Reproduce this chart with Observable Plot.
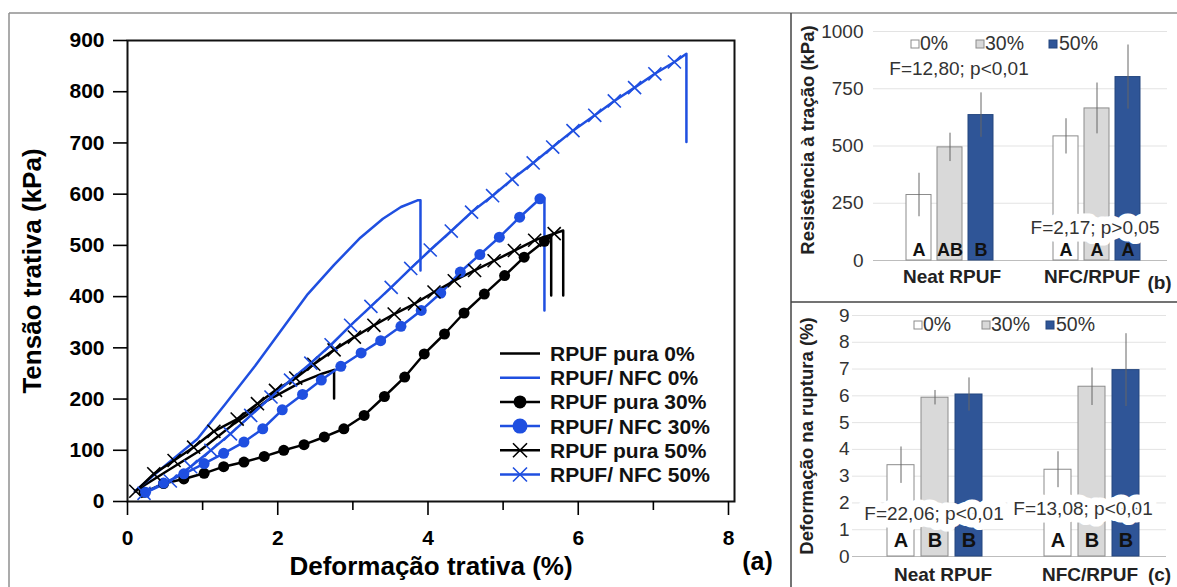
<!DOCTYPE html>
<html><head><meta charset="utf-8">
<script src="https://cdn.jsdelivr.net/npm/d3@7"></script>
<script src="https://cdn.jsdelivr.net/npm/@observablehq/plot@0.6"></script>
<style>
body{margin:0;background:#fff;}
#wrap{position:relative;width:1177px;height:587px;overflow:hidden;background:#fff;}
</style></head><body><div id="wrap"></div>
<script>
// ---------- Panel (a): stress–strain curves ----------
const pura0X = [0.1, 0.5, 0.97, 1.42, 1.86, 2.31, 2.6];
const pura0Y = [20, 57, 100, 152, 197, 233, 250];
const pura0Break = [2.75, 257, 201];

const nfc0X = [0.1, 0.5, 0.93, 1.3, 1.7, 2.1, 2.4, 2.75, 3.1, 3.4, 3.64, 3.86];
const nfc0Y = [20, 70, 122, 190, 265, 345, 405, 462, 515, 552, 575, 588];
const nfc0Break = [3.9, 588, 451];

const pura30X = [0.22,0.48,0.75,1.02,1.28,1.55,1.82,2.08,2.35,2.62,2.88,3.15,3.42,3.69,3.95,4.22,4.48,4.75,5.02,5.28,5.55];
const pura30Y = [18,35,44,55,68,77,88,100,111,126,142,168,205,243,288,327,368,405,441,477,508];
const pura30Break = [5.64, 519, 402];

const nfc30X = [0.24,0.48,0.75,1.02,1.28,1.55,1.8,2.06,2.33,2.58,2.84,3.11,3.37,3.64,3.91,4.17,4.43,4.69,4.95,5.22,5.49];
const nfc30Y = [18,36,54,74,94,116,142,179,209,237,264,290,314,342,373,407,448,482,516,555,591];
const nfc30Break = [5.55, 593, 373];

const pura50X = [0.11,0.35,0.62,0.88,1.15,1.46,1.73,1.97,2.24,2.48,2.75,3.02,3.28,3.55,3.82,4.08,4.35,4.62,4.88,5.15,5.42,5.68];
const pura50Y = [20,54,80,106,137,161,191,217,241,268,296,321,344,366,386,409,431,451,470,490,510,523];
const pura50Break = [5.8, 529, 402];

const nfc50X = [0.22,0.57,0.84,1.11,1.37,1.64,1.91,2.17,2.44,2.71,2.97,3.24,3.51,3.77,4.03,4.31,4.58,4.86,5.12,5.4,5.66,5.93,6.22,6.48,6.75,7.02,7.28];
const nfc50Y = [16,40,68,100,132,168,204,237,270,306,344,381,418,455,491,528,565,597,629,661,692,724,754,782,808,835,858];
const nfc50Break = [7.44, 874, 702];

const seriesNames = ["RPUF pura 0%", "RPUF/ NFC 0%", "RPUF pura 30%", "RPUF/ NFC 30%", "RPUF pura 50%", "RPUF/ NFC 50%"];
const yTicksA = [0,100,200,300,400,500,600,700,800,900];
const xMajorA = [0,2,4,6,8];
const xMinorA = [1,3,5,7];

// ---------- Panels (b) and (c): bar charts ----------
const groups = ["Neat RPUF", "NFC/RPUF"];
const levels = ["0%", "30%", "50%"];
const strengthMean = [286, 494, 635, 542, 664, 801];
const strengthSD   = [95, 62, 97, 77, 111, 140];
const strengthLetters = ["A", "AB", "B", "A", "A", "A"];
const strengthTicks = [0, 250, 500, 750, 1000];
const strengthStats = [
  {group: "Neat RPUF", label: "F=12,80; p<0,01", v: 835},
  {group: "NFC/RPUF",  label: "F=2,17; p>0,05",  v: 144}
];

const strainMean = [3.41, 5.93, 6.05, 3.24, 6.34, 6.96];
const strainSD   = [0.68, 0.27, 0.62, 0.67, 0.70, 1.36];
const strainLetters = ["A", "B", "B", "A", "B", "B"];
const strainTicks = [0,1,2,3,4,5,6,7,8,9];
const strainStats = [
  {group: "Neat RPUF", label: "F=22,06; p<0,01", v: 1.60},
  {group: "NFC/RPUF",  label: "F=13,08; p<0,01", v: 1.76}
];

// ---------- styles ----------
const FONT = '"Liberation Sans", Arial, sans-serif';
const BLUE = "#1f4fe0";
const BLACK = "#000";
const BAR_FILL = {"0%": "#ffffff", "30%": "#d9d9d9", "50%": "#2f5597"};
const BAR_STROKE = {"0%": "#8c8c8c", "30%": "#8c8c8c", "50%": "#24467f"};

const series = [
  {name: seriesNames[0], x: pura0X, y: pura0Y, brk: pura0Break, color: BLACK, marker: null},
  {name: seriesNames[1], x: nfc0X,  y: nfc0Y,  brk: nfc0Break,  color: BLUE,  marker: null},
  {name: seriesNames[2], x: pura30X, y: pura30Y, brk: pura30Break, color: BLACK, marker: "dot"},
  {name: seriesNames[3], x: nfc30X, y: nfc30Y, brk: nfc30Break, color: BLUE, marker: "dot"},
  {name: seriesNames[4], x: pura50X, y: pura50Y, brk: pura50Break, color: BLACK, marker: "times"},
  {name: seriesNames[5], x: nfc50X, y: nfc50Y, brk: nfc50Break, color: BLUE, marker: "times"}
];
const curveRows = s => {
  const r = s.x.map((x, i) => ({x, y: s.y[i]}));
  r.push({x: s.brk[0], y: s.brk[1]}, {x: s.brk[0], y: s.brk[2]});
  return r;
};
const pointRows = s => s.x.map((x, i) => ({x, y: s.y[i]}));

const wrap = document.getElementById("wrap");
function place(el, left, top) {
  el.style.position = "absolute";
  el.style.left = left + "px";
  el.style.top = top + "px";
  wrap.appendChild(el);
}

// ---------- main chart ----------
const lineMarks = [];
for (const s of series) {
  lineMarks.push(Plot.line(curveRows(s), {x: "x", y: "y", stroke: s.color, strokeWidth: 2.5}));
}
for (const s of series) {
  if (s.marker === "dot") lineMarks.push(Plot.dot(pointRows(s), {x: "x", y: "y", fill: s.color, r: 5.5}));
  if (s.marker === "times") lineMarks.push(Plot.dot(pointRows(s), {x: "x", y: "y", symbol: "times", stroke: s.color, r: 6, strokeWidth: 1.6}));
}

const chartA = Plot.plot({
  width: 790, height: 587,
  marginLeft: 127, marginRight: 56, marginTop: 40, marginBottom: 86,
  x: {domain: [0, 8.08]},
  y: {domain: [0, 900]},
  style: {fontFamily: FONT, background: "transparent", overflow: "visible", color: "#000"},
  marks: [
    ...lineMarks,
    Plot.frame({stroke: "#111", strokeWidth: 2}),
    Plot.axisY({ticks: yTicksA, tickSize: 14, tickPadding: 9, fontSize: 21, fontWeight: "bold", label: null, strokeWidth: 1.6}),
    Plot.axisX({ticks: xMajorA, tickSize: 14, tickPadding: 15, fontSize: 21, fontWeight: "bold", label: null, strokeWidth: 1.6}),
    Plot.axisX({ticks: xMinorA, tickSize: 9, tickFormat: () => "", label: null, strokeWidth: 1.6}),
    Plot.text(["Tensão trativa (kPa)"], {text: d => d, frameAnchor: "left", textAnchor: "middle", dx: -95, rotate: -90, fontSize: 26, fontWeight: "bold"}),
    Plot.text(["Deformação trativa (%)"], {text: d => d, frameAnchor: "bottom", textAnchor: "middle", dy: 73, fontSize: 26, fontWeight: "bold"}),
    Plot.text(["(a)"], {text: d => d, frameAnchor: "bottom-right", textAnchor: "middle", dx: 23, dy: 68, fontSize: 25, fontWeight: "bold"})
  ]
});
place(chartA, 0, 0);

// ---------- bar panels ----------
function barRows(means, sds, letters) {
  return means.map((v, i) => ({
    group: groups[Math.floor(i / 3)], level: levels[i % 3], value: v, sd: sds[i], letter: letters[i]
  }));
}
function barPanel(o) {
  const rows = barRows(o.means, o.sds, o.letters);
  const statMarks = o.stats.map((st, i) => Plot.text([st], {
    fx: "group", y: "v", text: "label", dx: o.statDx[i], fontSize: 19, fill: "#333",
    stroke: "white", strokeWidth: 15, strokeLinejoin: "round", paintOrder: "stroke"
  }));
  const groupMarks = groups.map((g, i) => Plot.text([g], {
    fx: d => d, text: d => d, frameAnchor: "bottom", textAnchor: "middle",
    dy: o.groupDy, dx: o.groupDx[i], fontSize: 19, fontWeight: "bold", fill: "#222"
  }));
  return Plot.plot({
    width: o.width, height: o.height,
    marginLeft: o.ml, marginRight: o.mr, marginTop: o.mt, marginBottom: o.mb,
    fx: {domain: groups, padding: 0, axis: null},
    x: {domain: levels, paddingInner: o.pi, paddingOuter: o.po, align: o.align, axis: null},
    y: {domain: o.domain},
    color: {type: "identity"},
    style: {fontFamily: FONT, background: "transparent", overflow: "visible", color: "#333"},
    marks: [
      Plot.gridY({ticks: o.ticks, stroke: "#e3e3e3", strokeOpacity: 1}),
      Plot.ruleY([0], {stroke: "#bdbdbd"}),
      Plot.axisY({ticks: o.ticks, tickSize: 0, tickPadding: o.tp, fontSize: 19, fill: "#333", tickFormat: d3.format("d"), label: null}),
      Plot.barY(rows, {fx: "group", x: "level", y: "value", fill: d => BAR_FILL[d.level], stroke: d => BAR_STROKE[d.level], strokeWidth: 1}),
      Plot.ruleX(rows, {fx: "group", x: "level", y1: d => d.value - d.sd, y2: d => d.value + d.sd, stroke: "#666", strokeWidth: 1}),
      ...statMarks,
      Plot.text(rows, {fx: "group", x: "level", y: 0, text: "letter", dy: o.letterDy, fontSize: o.letterSize, fontWeight: "bold", fill: "#111"}),
      ...groupMarks,
      Plot.text([groups[0]], {fx: d => d, text: () => o.title, frameAnchor: "left", textAnchor: "middle", dx: o.titleDx, dy: o.titleDy, rotate: -90, fontSize: 18.5, fontWeight: "bold", fill: "#222"}),
      Plot.text([groups[1]], {fx: d => d, text: () => o.tag, frameAnchor: "bottom-right", textAnchor: "middle", dx: o.tagDx, dy: o.tagDy, fontSize: 19, fontWeight: "bold", fill: "#222"})
    ]
  });
}

const chartB = barPanel({
  width: 386, height: 289, ml: 81, mr: 10, mt: 18, mb: 42,
  pi: 0.19, po: 0.93, align: 0.55, domain: [0, 1000], ticks: strengthTicks, tp: 10,
  means: strengthMean, sds: strengthSD, letters: strengthLetters, stats: strengthStats, statDx: [12, 1],
  letterDy: -10, letterSize: 18, groupDy: 22, groupDx: [5, -2],
  title: "Resistência à tração (kPa)", titleDx: -65, titleDy: -6, tag: "(b)", tagDx: -8, tagDy: 28
});
place(chartB, 791, 13);

const chartC = barPanel({
  width: 386, height: 285, ml: 61, mr: 11, mt: 13, mb: 31,
  pi: 0.2, po: 0.9, align: 0.565, domain: [0, 9], ticks: strainTicks, tp: 3,
  means: strainMean, sds: strainSD, letters: strainLetters, stats: strainStats, statDx: [3, -5],
  letterDy: -16, letterSize: 20, groupDy: 24, groupDx: [12, 2],
  title: "Deformação na ruptura (%)", titleDx: -45, titleDy: 0, tag: "(c)", tagDx: -7, tagDy: 24
});
place(chartC, 791, 302);

// ---------- overlay: panel borders and legends ----------
const ov = d3.create("svg").attr("width", 1177).attr("height", 587)
  .style("position", "absolute").style("left", "0px").style("top", "0px")
  .style("font-family", FONT);
ov.append("line").attr("x1", 9).attr("y1", 13).attr("x2", 1177).attr("y2", 13).attr("stroke", "#8f8f8f").attr("stroke-width", 1.5);
ov.append("line").attr("x1", 9).attr("y1", 13).attr("x2", 9).attr("y2", 587).attr("stroke", "#8f8f8f").attr("stroke-width", 1.5);
ov.append("line").attr("x1", 791).attr("y1", 13).attr("x2", 791).attr("y2", 587).attr("stroke", "#444").attr("stroke-width", 1.5);
ov.append("line").attr("x1", 791).attr("y1", 302).attr("x2", 1177).attr("y2", 302).attr("stroke", "#444").attr("stroke-width", 1.5);

// legend (a)
series.forEach((s, i) => {
  const yc = 353.5 + i * 24.2;
  const g = ov.append("g");
  g.append("line").attr("x1", 500).attr("x2", 540).attr("y1", yc).attr("y2", yc).attr("stroke", s.color).attr("stroke-width", 2.5);
  if (s.marker === "dot") g.append("circle").attr("cx", 520).attr("cy", yc).attr("r", s.color === BLUE ? 7.5 : 6.5).attr("fill", s.color);
  if (s.marker === "times") {
    g.append("path").attr("d", `M${513},${yc - 7}L${527},${yc + 7}M${513},${yc + 7}L${527},${yc - 7}`).attr("stroke", s.color).attr("stroke-width", 1.6);
  }
  g.append("text").attr("x", 550).attr("y", yc + 7.5).attr("font-size", 21).attr("font-weight", "bold").attr("fill", "#111").text(s.name);
});

// legends (b) and (c)
function barLegend(items, baseline) {
  items.forEach((it, i) => {
    const lv = levels[i];
    ov.append("rect").attr("x", it[0]).attr("y", baseline - 10).attr("width", 8).attr("height", 8)
      .attr("fill", BAR_FILL[lv]).attr("stroke", BAR_STROKE[lv]).attr("stroke-width", 1);
    ov.append("text").attr("x", it[1]).attr("y", baseline).attr("font-size", 19.5).attr("fill", "#333").text(lv);
  });
}
barLegend([[911, 920], [976, 985], [1049, 1059]], 50);
barLegend([[914, 923], [982, 991], [1046, 1056]], 331);

wrap.appendChild(ov.node());
</script></body></html>
